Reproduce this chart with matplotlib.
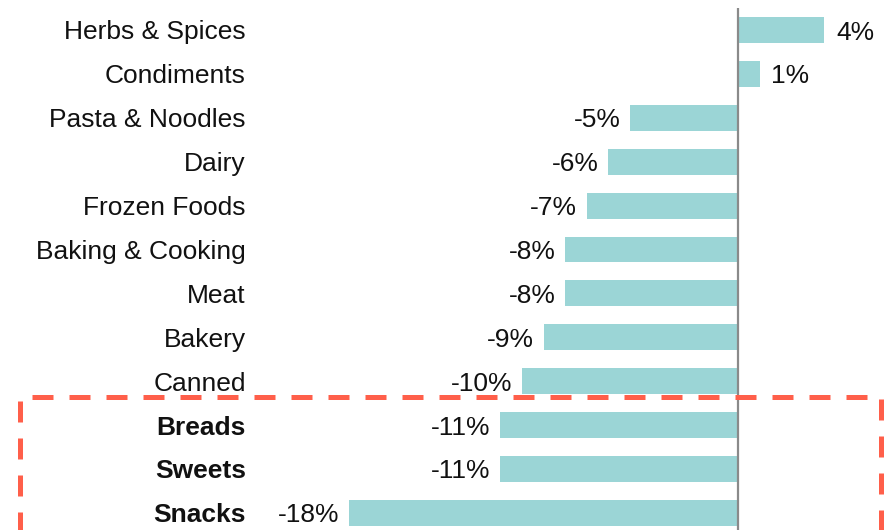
import matplotlib
matplotlib.use("Agg")
import matplotlib.pyplot as plt
from matplotlib.patches import Rectangle

plt.rcParams['font.family'] = ['Liberation Sans', 'DejaVu Sans']

categories = ["Herbs & Spices", "Condiments", "Pasta & Noodles", "Dairy",
              "Frozen Foods", "Baking & Cooking", "Meat", "Bakery", "Canned",
              "Breads", "Sweets", "Snacks"]
changes = [4, 1, -5, -6, -7, -8, -8, -9, -10, -11, -11, -18]
highlighted = ["Breads", "Sweets", "Snacks"]

W, H = 893, 530
fig = plt.figure(figsize=(W / 100, H / 100), dpi=100)

# axes span from x=250px to the right edge, full height
ax = fig.add_axes([250 / W, 0, 1 - 250 / W, 1])
px_per_unit = 21.6
zero_px = 738
ax.set_xlim(-(zero_px - 250) / px_per_unit, (W - zero_px) / px_per_unit)
row0, step = 30, 43.9
ax.set_ylim((H - row0) / step, -row0 / step)

ypos = list(range(len(categories)))
bar_color = "#9BD5D6"
ax.barh(ypos, changes, height=0.59, color=bar_color, zorder=2)
ax.vlines(0, -0.5, len(categories) + 1, color="#8a8a8a", linewidth=1.6, zorder=3)

fs = 19
for y, v in zip(ypos, changes):
    label = f"{v}%"
    if v >= 0:
        ax.text(v + 0.55, y, label, va="center_baseline", ha="left", fontsize=fs, color="#111111")
    else:
        ax.text(v - 0.45, y, label, va="center_baseline", ha="right", fontsize=fs, color="#111111")

ax.set_yticks(ypos)
ax.set_yticklabels(categories, fontsize=fs, color="#111111")
for lbl in ax.get_yticklabels():
    if lbl.get_text() in highlighted:
        lbl.set_fontweight("bold")
ax.tick_params(axis="y", length=0, pad=3)
ax.set_xticks([])
for s in ax.spines.values():
    s.set_visible(False)

# dashed frame around the highlighted categories
frame = Rectangle((20 / W, -0.1), (881 - 20) / W, 0.1 + (H - 397) / H,
                  transform=fig.transFigure, fill=False, edgecolor="#FF5F4A",
                  linewidth=3.6, linestyle=(0, (4.2, 3.2)), clip_on=False, zorder=5)
fig.patches.append(frame)

fig.savefig("out.png", dpi=100)
